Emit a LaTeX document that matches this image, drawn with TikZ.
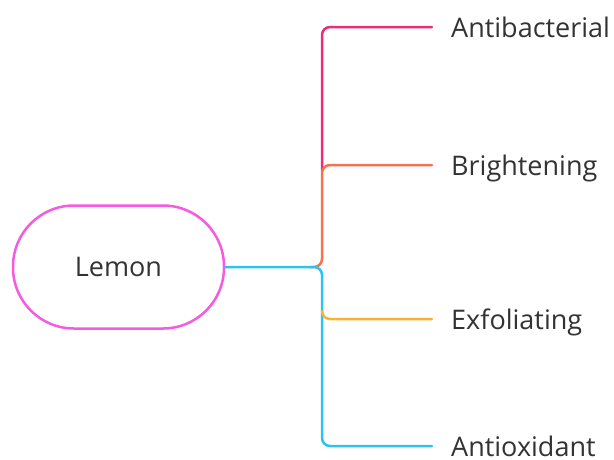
\documentclass[tikz,border=0pt]{standalone}
\usepackage{fontspec}
\setmainfont{Open Sans}
\definecolor{rootpink}{HTML}{F45BE1}
\definecolor{brmagenta}{HTML}{EE2A7B}
\definecolor{brorange}{HTML}{FB6E50}
\definecolor{bryellow}{HTML}{F9B233}
\definecolor{brcyan}{HTML}{2BC3F0}
\definecolor{labeltext}{HTML}{333333}
\begin{document}
\begin{tikzpicture}[x=1pt,y=-1pt,
  rootbox/.style={draw=rootpink,line width=2.5pt,rounded corners=61pt,
    minimum width=211pt,minimum height=123pt,inner sep=0pt,
    text=labeltext,font=\fontsize{27}{32}\selectfont},
  leaf/.style={anchor=west,inner xsep=19pt,inner ysep=0pt,text=labeltext,
    font=\fontsize{27}{32}\selectfont,text height=20pt,text depth=0pt},
  branch/.style={line width=2.5pt,rounded corners=8pt,line cap=round}]
\useasboundingbox (0,0) rectangle (614,459);
\node[rootbox] (lemon) at (118.5,267) {Lemon};
\node[leaf] (ab) at (432,27) {Antibacterial};
\node[leaf] (br) at (432,165) {Brightening};
\node[leaf] (ex) at (432,319) {Exfoliating};
\node[leaf] (ao) at (432,446) {Antioxidant};
\coordinate (hub) at (322,267);
\coordinate (abstart) at (322,170);
\coordinate (brstart) at (310,267);
\coordinate (exstart) at (322,311);
\draw[branch,brmagenta] (abstart) -- (hub |- ab.west) -- (ab.west);
\draw[branch,brorange] (brstart) -- (hub) -- (hub |- br.west) -- (br.west);
\draw[branch,brcyan] (lemon.east) -- (hub) -- (hub |- ao.west) -- (ao.west);
\draw[branch,bryellow] (exstart) -- (hub |- ex.west) -- (ex.west);
\end{tikzpicture}
\end{document}
